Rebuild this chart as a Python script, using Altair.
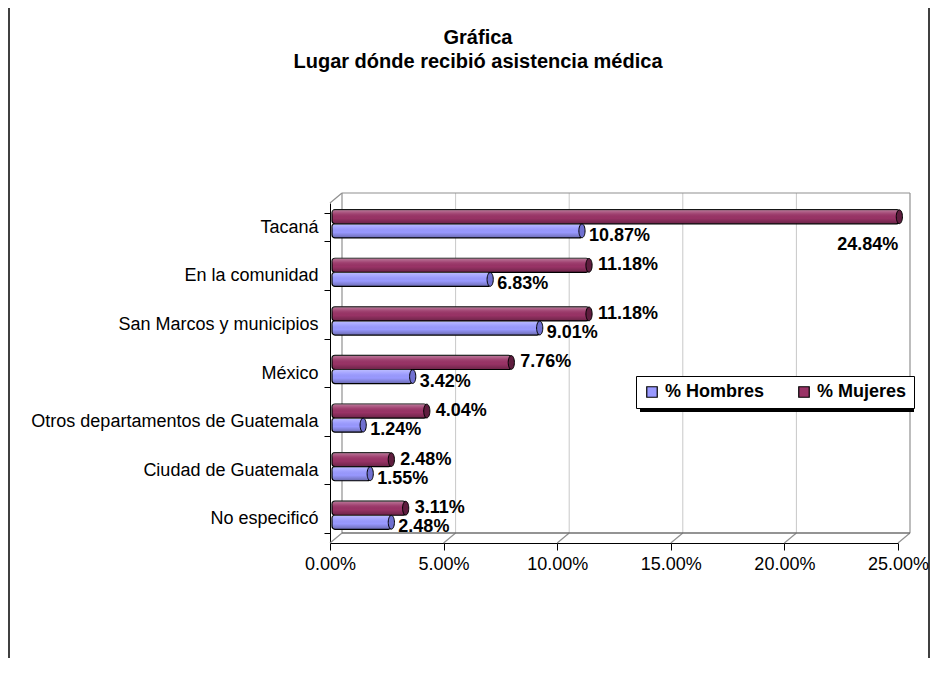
import altair as alt
import pandas as pd

categorias = ["Tacaná", "En la comunidad", "San Marcos y municipios", "México",
              "Otros departamentos de Guatemala", "Ciudad de Guatemala", "No especificó"]
hombres = [10.87, 6.83, 9.01, 3.42, 1.24, 1.55, 2.48]
mujeres = [24.84, 11.18, 11.18, 7.76, 4.04, 2.48, 3.11]
series = ["% Hombres", "% Mujeres"]
colores = ["#9999FF", "#993366"]
tapas = ["#7070d0", "#5e1d3e"]
ticks = [0, 5, 10, 15, 20, 25]
titulo = ["Gráfica", "Lugar dónde recibió asistencia médica"]

rows = []
for c, h, m in zip(categorias, hombres, mujeres):
    rows.append({"cat": c, "serie": series[0], "valor": h / 100})
    rows.append({"cat": c, "serie": series[1], "valor": m / 100})
df = pd.DataFrame(rows)
tdf = pd.DataFrame({"t": [t / 100 for t in ticks]})
one = pd.DataFrame({"k": [0]})

W, H = 568, 340
DX, DY = 12, 10
FONT = "Liberation Sans"

xs = alt.Scale(domain=[0, 0.25], nice=False, zero=True)
y_enc = alt.Y("cat:N", sort=categorias,
              scale=alt.Scale(paddingInner=0.42, paddingOuter=0.21),
              axis=alt.Axis(title=None, labelFontSize=18, labelColor="black", labelFont=FONT,
                            domainColor="black", tickColor="black", tickSize=6, tickBand="extent",
                            labelPadding=6, grid=False, labelLimit=400))
y_plain = alt.Y("cat:N", sort=categorias)
yo_enc = alt.YOffset("serie:N", sort=["% Mujeres", "% Hombres"],
                     scale=alt.Scale(paddingInner=0.0, range=[-3.5, 24.7]))
x_enc = alt.X("valor:Q", scale=xs,
              axis=alt.Axis(title=None, format=".2%", values=[t / 100 for t in ticks],
                            labelFontSize=18, labelColor="black", labelFont=FONT, labelFlush=False,
                            domainColor="black", tickColor="black", tickSize=7,
                            labelPadding=5, grid=False))

# back wall
grid_inner = alt.Chart(tdf).transform_filter("datum.t > 0 && datum.t < 0.25").mark_rule(
    color="#c8c8c8", strokeWidth=1, xOffset=DX).encode(
    x=alt.X("t:Q", scale=xs), y=alt.value(-DY), y2=alt.value(H - DY))
grid_edges = alt.Chart(tdf).transform_filter("datum.t == 0 || datum.t == 0.25").mark_rule(
    color="#909090", strokeWidth=1.2, xOffset=DX).encode(
    x=alt.X("t:Q", scale=xs), y=alt.value(-DY), y2=alt.value(H - DY))
diag = alt.Chart(tdf).mark_rule(color="#909090", strokeWidth=1.2, x2Offset=DX).encode(
    x=alt.X("t:Q", scale=xs), x2="t:Q", y=alt.value(H), y2=alt.value(H - DY))
wall_top = alt.Chart(one).mark_rule(color="#909090", strokeWidth=1.2).encode(
    x=alt.value(DX), x2=alt.value(W + DX), y=alt.value(-DY))
floor_back = alt.Chart(one).mark_rule(color="#707070", strokeWidth=1.5).encode(
    x=alt.value(DX), x2=alt.value(W + DX), y=alt.value(H - DY))
diag_top = alt.Chart(one).mark_rule(color="#909090", strokeWidth=1.2).encode(
    x=alt.value(0), x2=alt.value(DX), y=alt.value(0), y2=alt.value(-DY))

# legend shadow
shadow = alt.Chart(one).mark_rect(color="black").encode(
    x=alt.value(310), x2=alt.value(584), y=alt.value(177), y2=alt.value(209))

base = alt.Chart(df)
bars = base.mark_bar(stroke="black", strokeWidth=1.2, cornerRadius=3, xOffset=5, x2Offset=2).encode(
    x=x_enc, x2=alt.X2(datum=0), y=y_enc, yOffset=yo_enc,
    color=alt.Color("serie:N", scale=alt.Scale(domain=series, range=colores),
                    legend=alt.Legend(orient="none", legendX=306, legendY=173, direction="horizontal",
                                      title=None, fillColor="white", strokeColor="black",
                                      padding=7, labelFontSize=18, labelFontWeight="bold",
                                      labelFont=FONT, labelColor="black",
                                      symbolType="square", symbolSize=110, symbolStrokeColor="black",
                                      symbolStrokeWidth=1.2, symbolOpacity=1, columnPadding=30,
                                      labelOffset=4)))
shade = alt.LinearGradient(gradient="linear", x1=0, y1=0, x2=0, y2=1, stops=[
    alt.GradientStop(color="rgba(255,255,255,0.35)", offset=0),
    alt.GradientStop(color="rgba(255,255,255,0.08)", offset=0.3),
    alt.GradientStop(color="rgba(0,0,0,0)", offset=0.6),
    alt.GradientStop(color="rgba(0,0,0,0.3)", offset=1)])
gloss = base.mark_bar(fill=shade, cornerRadius=3, xOffset=5, x2Offset=2).encode(
    x="valor:Q", x2=alt.X2(datum=0), y=y_plain, yOffset=yo_enc)
caps = base.mark_point(shape="M 0 -1 A 0.45 1 0 0 1 0 1 A 0.45 1 0 0 1 0 -1 Z", size=190,
                       filled=True, stroke="black", strokeWidth=1, opacity=1, xOffset=5).encode(
    x="valor:Q", y=y_plain, yOffset=yo_enc,
    fill=alt.Fill("serie:N", scale=alt.Scale(domain=series, range=tapas), legend=None))

lab_m = base.transform_filter("datum.serie == '% Mujeres' && datum.valor < 0.2").mark_text(
    align="left", baseline="middle", dx=14, dy=0, fontSize=18, fontWeight="bold", font=FONT, color="black").encode(
    x="valor:Q", y=y_plain, yOffset=yo_enc, text=alt.Text("valor:Q", format=".2%"))
lab_big = base.transform_filter("datum.serie == '% Mujeres' && datum.valor >= 0.2").mark_text(
    align="right", baseline="middle", dx=4, dy=28, fontSize=18, fontWeight="bold", font=FONT, color="black").encode(
    x="valor:Q", y=y_plain, yOffset=yo_enc, text=alt.Text("valor:Q", format=".2%"))
lab_h = base.transform_filter("datum.serie == '% Hombres'").mark_text(
    align="left", baseline="middle", dx=12, dy=5, fontSize=18, fontWeight="bold", font=FONT, color="black").encode(
    x="valor:Q", y=y_plain, yOffset=yo_enc, text=alt.Text("valor:Q", format=".2%"))

t1 = alt.Chart(one).mark_text(text=titulo[0], fontSize=20, fontWeight="bold", font=FONT,
                              color="black", align="center", baseline="middle").encode(
    x=alt.value(148), y=alt.value(-165))
t2 = alt.Chart(one).mark_text(text=titulo[1], fontSize=20, fontWeight="bold", font=FONT,
                              color="black", align="center", baseline="middle").encode(
    x=alt.value(148), y=alt.value(-141))

frame_top = alt.Chart(one).mark_rule(color="black", strokeWidth=1.5).encode(
    x=alt.value(-321), x2=alt.value(599), y=alt.value(-197))
frame_left = alt.Chart(one).mark_rule(color="black", strokeWidth=1.5).encode(
    x=alt.value(-321), y=alt.value(-197), y2=alt.value(460))
frame_right = alt.Chart(one).mark_rule(color="black", strokeWidth=1.5).encode(
    x=alt.value(599), y=alt.value(-197), y2=alt.value(460))

chart = alt.layer(
    grid_inner, grid_edges, diag, wall_top, floor_back, diag_top,
    shadow, bars, gloss, caps, lab_m, lab_big, lab_h, t1, t2,
    frame_top, frame_left, frame_right
).properties(
    width=W, height=H,
    autosize=alt.AutoSizeParams(type="none"),
    padding={"left": 322, "top": 195, "right": 33, "bottom": 115}
).configure(font=FONT).configure_view(stroke=None)

chart.save("out.html", embed_options={"renderer": "svg", "actions": False})
